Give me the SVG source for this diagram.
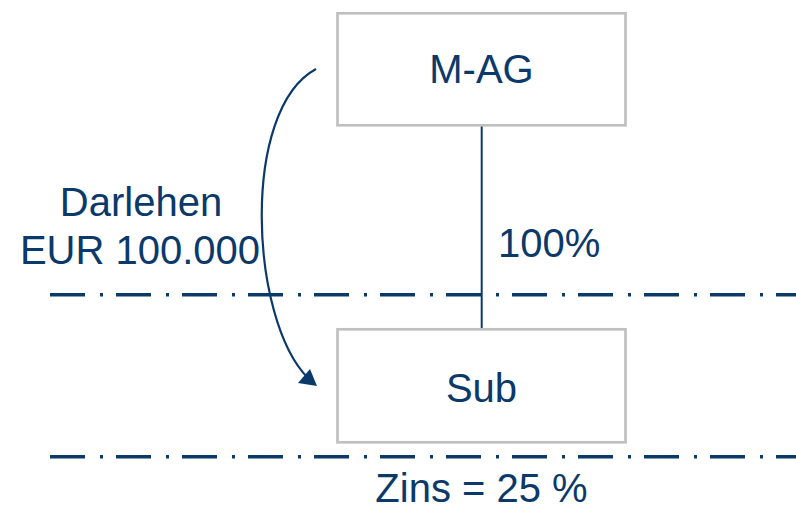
<svg xmlns="http://www.w3.org/2000/svg" width="796" height="510" viewBox="0 0 796 510">
  <style>
    .box { fill: #ffffff; stroke: #c0c0c0; stroke-width: 2.7; }
    .lbl { font-family: "Liberation Sans", Arial, sans-serif; font-size: 40px; fill: #0b3a6a; }
    .mid { text-anchor: middle; }
    .border { stroke: #0b3a6a; stroke-width: 3.6; stroke-dasharray: 35 15 3 13; fill: none; }
    .link { stroke: #0b3a6a; stroke-width: 2; fill: none; }
    .head { fill: #0b3a6a; }
  </style>

  <!-- border lines -->
  <g id="borders">
    <line class="border" x1="50" y1="294.7" x2="796" y2="294.7"/>
    <line class="border" x1="50" y1="456.7" x2="796" y2="456.7"/>
  </g>

  <!-- connectors -->
  <g id="connectors">
    <line class="link" x1="481.7" y1="126" x2="481.7" y2="329"/>
    <path class="link" d="M316,69 C240,110 250,320 308,378" style="stroke-width:2.2"/>
    <path class="head" d="M298,383 L317,386 L310,369 Z"/>
  </g>

  <g id="mag">
    <rect class="box" x="337.5" y="13.3" width="288" height="112"/>
    <text class="lbl mid" x="481.5" y="83">M-AG</text>
  </g>

  <g id="sub">
    <rect class="box" x="337.5" y="329.3" width="288" height="113"/>
    <text class="lbl mid" x="481.5" y="402">Sub</text>
  </g>

  <g id="labels">
    <text class="lbl mid" x="141" y="216">Darlehen</text>
    <text class="lbl mid" x="140" y="264">EUR 100.000</text>
    <text class="lbl" x="498" y="257">100%</text>
    <text class="lbl mid" x="481.5" y="502">Zins = 25 %</text>
  </g>
</svg>
